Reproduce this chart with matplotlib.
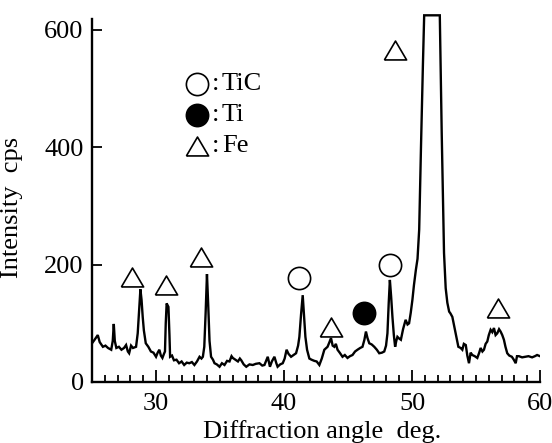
import matplotlib
matplotlib.use("Agg")
import matplotlib.pyplot as plt
from matplotlib.ticker import MultipleLocator

# ---- data ----
angle = [25.0, 25.2, 25.45, 25.6, 25.85, 26.05, 26.25, 26.5, 26.62, 26.7, 26.78, 26.9,
         27.1, 27.3, 27.5, 27.66, 27.8, 27.9, 28.05, 28.2, 28.44, 28.57, 28.7, 28.78,
         28.87, 28.96, 29.05, 29.2, 29.4, 29.6, 29.8, 30.0, 30.13, 30.26, 30.38, 30.5,
         30.62, 30.7, 30.76, 30.83, 30.97, 31.05, 31.1, 31.25, 31.4, 31.6, 31.8, 32.0,
         32.2, 32.4, 32.6, 32.8, 33.0, 33.2, 33.4, 33.55, 33.66, 33.77, 33.88, 33.98,
         34.08, 34.18, 34.3, 34.45, 34.57, 34.75, 34.96, 35.15, 35.35, 35.55, 35.74, 35.9,
         36.0, 36.2, 36.4, 36.55, 36.66, 36.85, 37.05, 37.3, 37.56, 37.8, 38.08, 38.3,
         38.47, 38.6, 38.73, 38.9, 39.05, 39.25, 39.4, 39.5, 39.7, 39.9, 40.05, 40.2,
         40.35, 40.55, 40.75, 40.94, 41.1, 41.2, 41.33, 41.46, 41.56, 41.67, 41.8, 41.98,
         42.15, 42.37, 42.55, 42.76, 42.95, 43.15, 43.3, 43.4, 43.55, 43.67, 43.8, 43.93,
         44.05, 44.18, 44.35, 44.57, 44.75, 44.96, 45.15, 45.35, 45.55, 45.74, 45.95, 46.13,
         46.28, 46.4, 46.52, 46.66, 46.85, 47.05, 47.25, 47.44, 47.65, 47.83, 47.97, 48.08,
         48.18, 48.27, 48.37, 48.47, 48.58, 48.68, 48.77, 48.86, 49.0, 49.13, 49.3, 49.5,
         49.65, 49.77, 49.9, 50.03, 50.15, 50.3, 50.43, 50.56, 50.7, 50.85, 50.95, 52.17,
         52.32, 52.5, 52.63, 52.76, 52.9, 53.0, 53.15, 53.3, 53.41, 53.62, 53.8, 53.93,
         54.05, 54.2, 54.32, 54.45, 54.58, 54.71, 54.9, 55.1, 55.25, 55.36, 55.5, 55.62,
         55.75, 55.88, 56.0, 56.14, 56.27, 56.4, 56.53, 56.66, 56.8, 56.92, 57.05, 57.18,
         57.3, 57.44, 57.6, 57.8, 57.95, 58.1, 58.2, 58.35, 58.6, 58.87, 59.1, 59.38,
         59.6, 59.77, 60.0]
intensity = [66, 72, 80, 68, 60, 62, 58, 55, 70, 99, 70, 58,
             60, 55, 58, 63, 52, 49, 62, 58, 60, 83, 130, 158,
             140, 111, 88, 66, 60, 52, 50, 43, 50, 55, 45, 41,
             48, 52, 100, 134, 128, 80, 43, 45, 37, 38, 32, 35,
             29, 33, 32, 34, 29, 35, 43, 40, 43, 60, 120, 184,
             130, 70, 43, 38, 32, 30, 26, 32, 29, 36, 35, 44,
             41, 38, 35, 40, 37, 30, 26, 30, 29, 31, 32, 28,
             29, 36, 43, 26, 35, 43, 32, 26, 30, 32, 40, 55,
             48, 43, 46, 49, 62, 77, 115, 148, 115, 77, 55, 40,
             38, 36, 35, 29, 40, 55, 58, 60, 68, 75, 62, 60,
             65, 55, 50, 43, 46, 41, 44, 46, 52, 55, 58, 60,
             72, 86, 75, 66, 64, 60, 55, 49, 50, 52, 62, 83,
             135, 174, 145, 111, 80, 60, 70, 77, 74, 72, 90, 106,
             98, 100, 118, 140, 165, 191, 210, 260, 400, 540, 625, 625,
             424, 220, 160, 135, 120, 117, 111, 95, 83, 60, 58, 55,
             65, 63, 45, 32, 50, 46, 44, 41, 50, 58, 52, 55,
             65, 69, 80, 89, 85, 92, 80, 83, 90, 86, 80, 72,
             60, 49, 45, 43, 38, 32, 44, 44, 42, 43, 44, 42,
             44, 46, 44]

fe_x = [28.16, 30.81, 33.54, 43.67, 48.68, 56.71]
fe_y = [179, 165, 213, 94, 566, 126]
tic_x = [41.2, 48.29]
tic_y = [177, 199]
ti_x = [46.21]
ti_y = [118]

legend_labels = ["TiC", "Ti", "Fe"]
x_ticks = [30, 40, 50, 60]
y_ticks = [0, 200, 400, 600]

# ---- figure ----
plt.rcParams['font.family'] = ['Liberation Serif', 'DejaVu Serif']
fig = plt.figure(figsize=(5.52, 4.43), dpi=100)
ax = fig.add_axes([0.1667, 0.1377, 0.8116, 0.8476])

ax.plot(angle, intensity, color='black', lw=1.7, solid_joinstyle='miter')

tri = [(-1, -0.85), (1, -0.85), (0, 0.85), (-1, -0.85)]
mk = dict(linestyle='none', markersize=16, markeredgecolor='black', markeredgewidth=1.2)
ax.plot(fe_x, fe_y, marker=tri, markerfacecolor='white', **mk)
ax.plot(tic_x, tic_y, marker='o', markerfacecolor='white', **mk)
ax.plot(ti_x, ti_y, marker='o', markerfacecolor='black', **mk)

# legend
lx = 0.234
ly = [0.794, 0.711, 0.628]
lmarkers = [('o', 'white'), ('o', 'black'), (tri, 'white')]
for y, t, (m, fc) in zip(ly, legend_labels, lmarkers):
    ax.plot([lx], [y], marker=m, markerfacecolor=fc, linestyle='none', markersize=16,
            markeredgecolor='black', markeredgewidth=1.2, transform=ax.transAxes,
            clip_on=False)
    ax.text(0.268, y, ":", transform=ax.transAxes, fontsize=19, va='center', ha='left')
    ax.text(0.29, y, t, transform=ax.transAxes, fontsize=19, va='center', ha='left')

ax.set_xlim(25, 60)
ax.set_ylim(0, 640)
ax.spines['top'].set_visible(False)
ax.spines['right'].set_visible(False)
ax.spines['left'].set_bounds(0, 618)
for s in ('left', 'bottom'):
    ax.spines[s].set_linewidth(1.7)

ax.set_xticks(x_ticks)
ax.xaxis.set_minor_locator(MultipleLocator(1))
ax.set_yticks(y_ticks)
ax.tick_params(axis='x', which='major', direction='in', length=8.5, width=1.3,
               labelsize=19, pad=8)
ax.tick_params(axis='x', which='minor', direction='in', length=5, width=1.3)
ax.tick_params(axis='y', which='major', direction='in', length=7, width=1.3,
               labelsize=19, pad=6)

ax.set_xlabel("Diffraction angle  deg.", fontsize=19)
ax.xaxis.set_label_coords(0.513, -0.1)
ax.set_ylabel("Intensity  cps", fontsize=19)
ax.yaxis.set_label_coords(-0.155, 0.466)

fig.savefig("out.png", dpi=100)
